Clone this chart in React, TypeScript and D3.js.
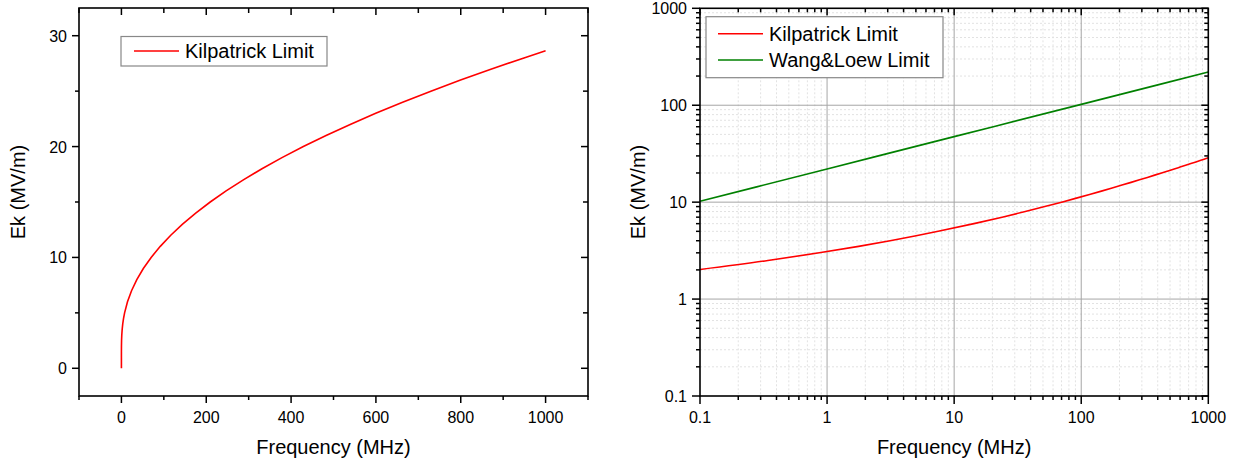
import React from "react";
import * as d3 from "d3";

// Kilpatrick limit: surface field (MV/m) vs frequency (MHz)
const kilpatrickField = [
  0, 1, 1.5, 2, 2.02, 2.5, 3, 3.5, 4, 4.5, 5, 6, 7, 8, 9, 10, 11, 12, 13, 14, 15,
  16, 17, 18, 19, 20, 21, 22, 23, 24, 25, 26, 27, 28, 28.64,
];
const kilpatrickFreq = [
  0, 0.000334, 0.01276, 0.0936, 0.1, 0.342, 0.868, 1.771, 3.134, 5.022, 7.49,
  14.32, 23.86, 36.28, 51.66, 70.1, 91.63, 116.3, 144.14, 175.15, 209.37, 246.81,
  287.47, 331.37, 378.49, 428.87, 482.5, 539.38, 599.52, 662.91, 729.56, 799.49,
  872.67, 949.12, 1000,
];

// Wang & Loew limit
const wangLoewFreq = [0.1, 1, 10, 100, 1000];
const wangLoewField = [10.21, 22.0, 47.4, 102.1, 220];

// Axis ticks
const linXMajor = [0, 200, 400, 600, 800, 1000];
const linXMinor = [-100, 100, 300, 500, 700, 900, 1100];
const linYMajor = [0, 10, 20, 30];
const linYMinor = [5, 15, 25];
const logMajor = [0.1, 1, 10, 100, 1000];
const logMinorMultipliers = [2, 3, 4, 5, 6, 7, 8, 9];

const FONT = "'Liberation Sans', Arial, sans-serif";
const RED = "#ff0000";
const GREEN = "#008000";

type Pt = [number, number];

const kilpatrickPts: Pt[] = kilpatrickFreq.map((f, i) => [f, kilpatrickField[i]]);
const wangLoewPts: Pt[] = wangLoewFreq.map((f, i) => [f, wangLoewField[i]]);

const logMinor: number[] = logMajor
  .slice(0, -1)
  .flatMap((d) => logMinorMultipliers.map((m) => +(d * m).toPrecision(3)));

function LinearPanel() {
  const L = 79, R = 588, T = 8, B = 396;
  const x = d3.scaleLinear().domain([-100, 1100]).range([L, R]);
  const y = d3.scaleLinear().domain([-2.5, 32.5]).range([B, T]);
  const line = d3
    .line<Pt>()
    .x((d) => x(d[0]))
    .y((d) => y(d[1]));
  return (
    <g>
      <path d={line(kilpatrickPts) || ""} fill="none" stroke={RED} strokeWidth={1.6} />
      {/* bottom axis ticks (outward) */}
      {linXMajor.map((v) => (
        <line key={"bx" + v} x1={x(v)} x2={x(v)} y1={B} y2={B + 7} stroke="#000" strokeWidth={1.5} />
      ))}
      {linXMinor.map((v) => (
        <line key={"bxm" + v} x1={x(v)} x2={x(v)} y1={B} y2={B + 4} stroke="#000" strokeWidth={1.5} />
      ))}
      {/* top axis ticks (inward) */}
      {linXMajor.map((v) => (
        <line key={"tx" + v} x1={x(v)} x2={x(v)} y1={T} y2={T + 7} stroke="#000" strokeWidth={1.5} />
      ))}
      {linXMinor.map((v) => (
        <line key={"txm" + v} x1={x(v)} x2={x(v)} y1={T} y2={T + 5} stroke="#000" strokeWidth={1.5} />
      ))}
      {/* left axis ticks (outward) */}
      {linYMajor.map((v) => (
        <line key={"ly" + v} x1={L - 7} x2={L} y1={y(v)} y2={y(v)} stroke="#000" strokeWidth={1.5} />
      ))}
      {linYMinor.map((v) => (
        <line key={"lym" + v} x1={L - 4} x2={L} y1={y(v)} y2={y(v)} stroke="#000" strokeWidth={1.5} />
      ))}
      {/* right axis ticks (inward) */}
      {linYMajor.map((v) => (
        <line key={"ry" + v} x1={R - 7} x2={R} y1={y(v)} y2={y(v)} stroke="#000" strokeWidth={1.5} />
      ))}
      {linYMinor.map((v) => (
        <line key={"rym" + v} x1={R - 5} x2={R} y1={y(v)} y2={y(v)} stroke="#000" strokeWidth={1.5} />
      ))}
      <rect x={L} y={T} width={R - L} height={B - T} fill="none" stroke="#000" strokeWidth={1.6} />
      {linXMajor.map((v) => (
        <text key={"xl" + v} x={x(v)} y={423} textAnchor="middle" fontSize={16} fontFamily={FONT}>
          {v}
        </text>
      ))}
      {linYMajor.map((v) => (
        <text key={"yl" + v} x={L - 12} y={y(v) + 6} textAnchor="end" fontSize={16} fontFamily={FONT}>
          {v}
        </text>
      ))}
      <text x={(L + R) / 2} y={454} textAnchor="middle" fontSize={20} fontFamily={FONT}>
        Frequency (MHz)
      </text>
      <text transform={`translate(25,192) rotate(-90)`} textAnchor="middle" fontSize={20} fontFamily={FONT}>
        Ek (MV/m)
      </text>
      {/* legend */}
      <rect x={121} y={36.5} width={206} height={29.5} fill="#fff" stroke="#888" strokeWidth={1.2} />
      <line x1={134} x2={179} y1={51} y2={51} stroke={RED} strokeWidth={1.6} />
      <text x={185} y={58} fontSize={20} fontFamily={FONT}>
        Kilpatrick Limit
      </text>
    </g>
  );
}

function LogPanel() {
  const L = 700, R = 1208.3, T = 8.3, B = 396;
  const x = d3.scaleLog().domain([0.1, 1000]).range([L, R]);
  const y = d3.scaleLog().domain([0.1, 1000]).range([B, T]);
  const line = d3
    .line<Pt>()
    .x((d) => x(d[0]))
    .y((d) => y(d[1]))
    .curve(d3.curveMonotoneX);
  const kLog = kilpatrickPts.filter((d) => d[0] >= 0.1);
  const fmt = (v: number) => (v < 1 ? v.toFixed(1) : String(v));
  return (
    <g>
      {/* minor grid */}
      {logMinor.map((v) => (
        <g key={"mg" + v}>
          <line x1={x(v)} x2={x(v)} y1={T} y2={B} stroke="#e2e2e2" strokeWidth={1} strokeDasharray="2,2" />
          <line x1={L} x2={R} y1={y(v)} y2={y(v)} stroke="#e2e2e2" strokeWidth={1} strokeDasharray="2,2" />
        </g>
      ))}
      {/* major grid */}
      {logMajor.slice(1, -1).map((v) => (
        <g key={"Mg" + v}>
          <line x1={x(v)} x2={x(v)} y1={T} y2={B} stroke="#a6a6a6" strokeWidth={1} />
          <line x1={L} x2={R} y1={y(v)} y2={y(v)} stroke="#a6a6a6" strokeWidth={1} />
        </g>
      ))}
      <path d={line(wangLoewPts) || ""} fill="none" stroke={GREEN} strokeWidth={1.6} />
      <path d={line(kLog) || ""} fill="none" stroke={RED} strokeWidth={1.6} />
      {/* ticks */}
      {logMajor.map((v) => (
        <g key={"t" + v}>
          <line x1={x(v)} x2={x(v)} y1={B} y2={B + 8} stroke="#000" strokeWidth={1.5} />
          <line x1={x(v)} x2={x(v)} y1={T} y2={T + 7} stroke="#000" strokeWidth={1.5} />
          <line x1={L - 8} x2={L} y1={y(v)} y2={y(v)} stroke="#000" strokeWidth={1.5} />
          <line x1={R - 7} x2={R} y1={y(v)} y2={y(v)} stroke="#000" strokeWidth={1.5} />
        </g>
      ))}
      {logMinor.map((v) => (
        <g key={"tm" + v}>
          <line x1={x(v)} x2={x(v)} y1={B} y2={B + 4} stroke="#000" strokeWidth={1.5} />
          <line x1={x(v)} x2={x(v)} y1={T} y2={T + 4} stroke="#000" strokeWidth={1.5} />
          <line x1={L - 4} x2={L} y1={y(v)} y2={y(v)} stroke="#000" strokeWidth={1.5} />
          <line x1={R - 4} x2={R} y1={y(v)} y2={y(v)} stroke="#000" strokeWidth={1.5} />
        </g>
      ))}
      <rect x={L} y={T} width={R - L} height={B - T} fill="none" stroke="#000" strokeWidth={1.6} />
      {logMajor.map((v) => (
        <text key={"xl" + v} x={x(v)} y={423} textAnchor="middle" fontSize={16} fontFamily={FONT}>
          {fmt(v)}
        </text>
      ))}
      {logMajor.map((v) => (
        <text key={"yl" + v} x={L - 13} y={y(v) + 6} textAnchor="end" fontSize={16} fontFamily={FONT}>
          {fmt(v)}
        </text>
      ))}
      <text x={(L + R) / 2} y={454} textAnchor="middle" fontSize={20} fontFamily={FONT}>
        Frequency (MHz)
      </text>
      <text transform={`translate(645,192) rotate(-90)`} textAnchor="middle" fontSize={20} fontFamily={FONT}>
        Ek (MV/m)
      </text>
      {/* legend */}
      <rect x={706} y={16.7} width={237} height={61} fill="#fff" stroke="#888" strokeWidth={1.2} />
      <line x1={718} x2={763} y1={33.7} y2={33.7} stroke={RED} strokeWidth={1.6} />
      <line x1={718} x2={763} y1={60} y2={60} stroke={GREEN} strokeWidth={1.6} />
      <text x={769} y={41} fontSize={20} fontFamily={FONT}>
        Kilpatrick Limit
      </text>
      <text x={769} y={67} fontSize={20} fontFamily={FONT}>
        Wang&amp;Loew Limit
      </text>
    </g>
  );
}

export default function App() {
  return (
    <svg
      width={1248}
      height={463}
      style={{ position: "absolute", left: 0, top: 0, background: "#fff" }}
    >
      <rect width={1248} height={463} fill="#fff" />
      <LinearPanel />
      <LogPanel />
    </svg>
  );
}
